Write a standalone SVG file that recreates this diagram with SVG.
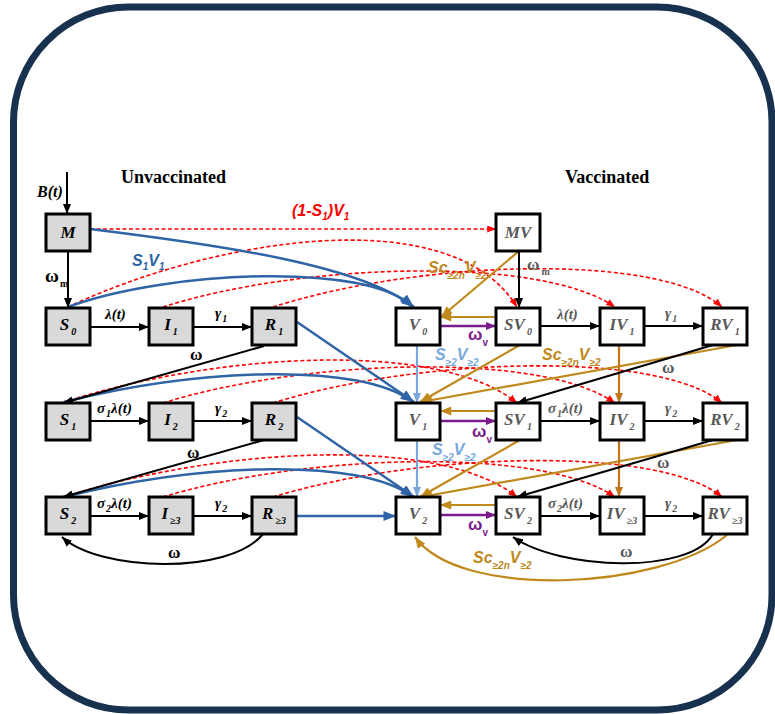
<svg xmlns="http://www.w3.org/2000/svg" width="775" height="714" viewBox="0 0 775 714">
<defs>
<style>
.bu{fill:#d9d9d9;stroke:#000;stroke-width:3}
.bv{fill:#fff;stroke:#000;stroke-width:3}
.tu{font-family:"Liberation Serif",serif;font-weight:bold;font-style:italic;font-size:17px;fill:#000;text-anchor:middle}
.tv{font-family:"Liberation Serif",serif;font-weight:bold;font-style:italic;font-size:17px;fill:#595959;text-anchor:middle}
.sub{font-size:10px}
.hd{font-family:"Liberation Serif",serif;font-weight:bold;font-size:18px;fill:#000}
.el{font-family:"Liberation Serif",serif;font-weight:bold;font-style:italic;font-size:15px;fill:#000}
.elg{font-family:"Liberation Serif",serif;font-weight:bold;font-style:italic;font-size:15px;fill:#595959}
.om{font-family:"Liberation Serif",serif;font-weight:bold;font-size:17px;fill:#000}
.omg{font-family:"Liberation Serif",serif;font-weight:bold;font-size:17px;fill:#595959}
.cl{font-family:"Liberation Sans",sans-serif;font-weight:bold;font-style:italic;font-size:16px}
.k{fill:none;stroke:#000;stroke-width:2;marker-end:url(#mk)}
.rd{fill:none;stroke:#ff0000;stroke-width:1.6;stroke-dasharray:4 2.5;marker-end:url(#mr)}
.bl{fill:none;stroke:#2f65a6;stroke-width:2.5;marker-end:url(#mb)}
.lb{fill:none;stroke:#79a8dc;stroke-width:2.2;marker-end:url(#ml)}
.gd{fill:none;stroke:#c0891c;stroke-width:2.2;marker-end:url(#mg)}
.or{fill:none;stroke:#c4761a;stroke-width:2.2;marker-end:url(#mo)}
.pu{fill:none;stroke:#7b1c8c;stroke-width:2.5;marker-end:url(#mp)}
</style>
<marker id="mk" viewBox="0 0 10 8" refX="10" refY="4" markerWidth="10" markerHeight="8" orient="auto" markerUnits="userSpaceOnUse"><path d="M0,0L10,4L0,8z" fill="#000"/></marker>
<marker id="mr" viewBox="0 0 10 8" refX="10" refY="4" markerWidth="9" markerHeight="7" orient="auto" markerUnits="userSpaceOnUse"><path d="M0,0L10,4L0,8z" fill="#ff0000"/></marker>
<marker id="mb" viewBox="0 0 10 8" refX="10" refY="4" markerWidth="13" markerHeight="10" orient="auto" markerUnits="userSpaceOnUse"><path d="M0,0L10,4L0,8z" fill="#2f65a6"/></marker>
<marker id="ml" viewBox="0 0 10 8" refX="10" refY="4" markerWidth="11" markerHeight="8" orient="auto" markerUnits="userSpaceOnUse"><path d="M0,0L10,4L0,8z" fill="#79a8dc"/></marker>
<marker id="mg" viewBox="0 0 10 8" refX="10" refY="4" markerWidth="12" markerHeight="9" orient="auto" markerUnits="userSpaceOnUse"><path d="M0,0L10,4L0,8z" fill="#c0891c"/></marker>
<marker id="mo" viewBox="0 0 10 8" refX="10" refY="4" markerWidth="11" markerHeight="8" orient="auto" markerUnits="userSpaceOnUse"><path d="M0,0L10,4L0,8z" fill="#c4761a"/></marker>
<marker id="mp" viewBox="0 0 10 8" refX="10" refY="4" markerWidth="11" markerHeight="8" orient="auto" markerUnits="userSpaceOnUse"><path d="M0,0L10,4L0,8z" fill="#7b1c8c"/></marker>
</defs>
<rect x="13.5" y="7" width="758.5" height="703" rx="115" ry="115" fill="#fff" stroke="#17314f" stroke-width="7"/>
<text class="hd" x="121" y="183">Unvaccinated</text>
<text class="hd" x="565" y="183">Vaccinated</text>
<g id="connectors">
<!-- red dashed -->
<path class="rd" d="M90 229H496"/>
<path class="rd" d="M68 307C210 240 450 198 517 307"/>
<path class="rd" d="M163 307C300 263 540 255 615 307"/>
<path class="rd" d="M273 307C420 260 660 252 722 307"/>
<path class="rd" d="M64 402C220 352 440 340 517 403"/>
<path class="rd" d="M163 403C300 360 540 350 615 403"/>
<path class="rd" d="M273 403C420 357 660 350 722 403"/>
<path class="rd" d="M64 497C220 447 440 435 517 497"/>
<path class="rd" d="M163 497C300 455 540 445 615 497"/>
<path class="rd" d="M273 497C420 452 660 445 722 497"/>
<!-- blue -->
<path class="bl" d="M90 229C220 245 360 265 414 307"/>
<path class="bl" d="M68 307C170 270 370 262 412 307"/>
<path class="bl" d="M297 322L414 402"/>
<path class="bl" d="M64 402C200 368 360 362 413 402"/>
<path class="bl" d="M297 417L414 497"/>
<path class="bl" d="M64 497C200 463 360 457 413 497"/>
<path class="bl" d="M297 516H396"/>
<!-- light blue -->
<path class="lb" d="M417 345V403"/>
<path class="lb" d="M417 440V497"/>
<!-- purple -->
<path class="pu" d="M440 326H496"/>
<path class="pu" d="M440 421H496"/>
<path class="pu" d="M440 515H496"/>
<!-- gold -->
<path class="gd" d="M496 317H440"/>
<path class="gd" d="M496 411H440"/>
<path class="gd" d="M496 505H440"/>
<path class="gd" d="M519 251L441 317"/>
<path class="gd" d="M520 345L420 402"/>
<path class="gd" d="M737 345L421 402"/>
<path class="gd" d="M520 440L420 497"/>
<path class="gd" d="M737 440L421 497"/>
<path class="gd" d="M727 535C660 590 460 600 415 537"/>
<path class="or" d="M619 345V403"/>
<path class="or" d="M619 440V497"/>
<!-- black -->
<path class="k" d="M67 172V214"/>
<path class="k" d="M68 250V308"/>
<path class="k" d="M90 327H149"/>
<path class="k" d="M193 327H252"/>
<path class="k" d="M264 346L63 403"/>
<path class="k" d="M90 421H149"/>
<path class="k" d="M193 421H252"/>
<path class="k" d="M264 440L63 497"/>
<path class="k" d="M90 516H149"/>
<path class="k" d="M193 516H252"/>
<path class="k" d="M263 534C230 575 100 572 62 537"/>
<path class="k" d="M519 251V308"/>
<path class="k" d="M540 326H600"/>
<path class="k" d="M644 326H703"/>
<path class="k" d="M713 345L517 403"/>
<path class="k" d="M540 421H600"/>
<path class="k" d="M644 421H703"/>
<path class="k" d="M713 440L517 497"/>
<path class="k" d="M540 516H600"/>
<path class="k" d="M644 516H703"/>
<path class="k" d="M713 534C690 575 560 570 513 537"/>
</g>
<g id="labels">
<text class="el" x="37" y="197" style="font-size:16px">B(t)</text>
<text class="om" x="45" y="282" style="font-size:19px">ω<tspan class="sub" dx="1" dy="5">m</tspan></text>
<text class="el" x="105" y="319">λ(t)</text>
<text class="el" x="215" y="318">γ<tspan class="sub" dx="1" dy="4">1</tspan></text>
<text class="om" x="190" y="360">ω</text>
<text class="el" x="97" y="413">σ<tspan class="sub" dx="1" dy="4">1</tspan><tspan dy="-4">λ(t)</tspan></text>
<text class="el" x="215" y="413">γ<tspan class="sub" dx="1" dy="4">2</tspan></text>
<text class="om" x="187" y="458">ω</text>
<text class="el" x="97" y="508">σ<tspan class="sub" dx="1" dy="4">2</tspan><tspan dy="-4">λ(t)</tspan></text>
<text class="el" x="215" y="508">γ<tspan class="sub" dx="1" dy="4">2</tspan></text>
<text class="om" x="168" y="558">ω</text>
<text class="omg" x="527" y="270">ω<tspan class="sub" dx="2" dy="5">m</tspan></text>
<text class="elg" x="557" y="319">λ(t)</text>
<text class="elg" x="665" y="318">γ<tspan class="sub" dx="1" dy="4">1</tspan></text>
<text class="omg" x="662" y="373">ω</text>
<text class="elg" x="548" y="413">σ<tspan class="sub" dx="1" dy="4">1</tspan><tspan dy="-4">λ(t)</tspan></text>
<text class="elg" x="665" y="413">γ<tspan class="sub" dx="1" dy="4">2</tspan></text>
<text class="omg" x="657" y="468">ω</text>
<text class="elg" x="548" y="508">σ<tspan class="sub" dx="1" dy="4">2</tspan><tspan dy="-4">λ(t)</tspan></text>
<text class="elg" x="665" y="508">γ<tspan class="sub" dx="1" dy="4">2</tspan></text>
<text class="omg" x="620" y="557">ω</text>
<text class="cl" x="292" y="216" fill="#ff0000">(1-S<tspan class="sub" dy="4">1</tspan><tspan dy="-4">)V</tspan><tspan class="sub" dy="4">1</tspan></text>
<text class="cl" x="132" y="266" fill="#2f65a6">S<tspan class="sub" dy="4">1</tspan><tspan dy="-4">V</tspan><tspan class="sub" dy="4">1</tspan></text>
<text class="cl" x="428" y="273" fill="#c0891c">Sc<tspan class="sub" dy="6">≥2n</tspan><tspan dy="-6">V</tspan><tspan class="sub" dy="6">≥2</tspan></text>
<text class="cl" x="542" y="360" fill="#c0891c">Sc<tspan class="sub" dy="6">≥2n</tspan><tspan dy="-6">V</tspan><tspan class="sub" dy="6">≥2</tspan></text>
<text class="cl" x="473" y="563" fill="#c0891c">Sc<tspan class="sub" dy="6">≥2n</tspan><tspan dy="-6">V</tspan><tspan class="sub" dy="6">≥2</tspan></text>
<text class="cl" x="435" y="360" fill="#79a8dc">S<tspan class="sub" dy="6">≥2</tspan><tspan dy="-6">V</tspan><tspan class="sub" dy="6">≥2</tspan></text>
<text class="cl" x="432" y="455" fill="#79a8dc">S<tspan class="sub" dy="6">≥2</tspan><tspan dy="-6">V</tspan><tspan class="sub" dy="6">≥2</tspan></text>
<text class="cl" x="468" y="340" fill="#7b1c8c" style="font-style:normal;font-size:17px">ω<tspan class="sub" dy="6">v</tspan></text>
<text class="cl" x="472" y="437" fill="#7b1c8c" style="font-style:normal;font-size:17px">ω<tspan class="sub" dy="6">v</tspan></text>
<text class="cl" x="468" y="530" fill="#7b1c8c" style="font-style:normal;font-size:17px">ω<tspan class="sub" dy="6">v</tspan></text>
</g>
<g id="M"><rect class="bu" x="46" y="214" width="44" height="37"/><text class="tu" x="68" y="238">M</text></g>
<g id="S0"><rect class="bu" x="46" y="308" width="44" height="37"/><text class="tu" x="68" y="330">S<tspan class="sub" dx="2" dy="5">0</tspan></text></g>
<g id="I1"><rect class="bu" x="149" y="308" width="44" height="37"/><text class="tu" x="171" y="330">I<tspan class="sub" dx="2" dy="5">1</tspan></text></g>
<g id="R1"><rect class="bu" x="252" y="308" width="44" height="37"/><text class="tu" x="274" y="330">R<tspan class="sub" dx="2" dy="5">1</tspan></text></g>
<g id="S1"><rect class="bu" x="46" y="403" width="44" height="37"/><text class="tu" x="68" y="425">S<tspan class="sub" dx="2" dy="5">1</tspan></text></g>
<g id="I2"><rect class="bu" x="149" y="403" width="44" height="37"/><text class="tu" x="171" y="425">I<tspan class="sub" dx="2" dy="5">2</tspan></text></g>
<g id="R2"><rect class="bu" x="252" y="403" width="44" height="37"/><text class="tu" x="274" y="425">R<tspan class="sub" dx="2" dy="5">2</tspan></text></g>
<g id="S2"><rect class="bu" x="46" y="497" width="44" height="37"/><text class="tu" x="68" y="519">S<tspan class="sub" dx="2" dy="5">2</tspan></text></g>
<g id="I3"><rect class="bu" x="149" y="497" width="44" height="37"/><text class="tu" x="171" y="519">I<tspan class="sub" dx="2" dy="5">≥3</tspan></text></g>
<g id="R3"><rect class="bu" x="252" y="497" width="44" height="37"/><text class="tu" x="274" y="519">R<tspan class="sub" dx="2" dy="5">≥3</tspan></text></g>
<g id="MV"><rect class="bv" x="496" y="214" width="44" height="37"/><text class="tv" x="518" y="238">MV</text></g>
<g id="V0"><rect class="bv" x="396" y="308" width="44" height="37"/><text class="tv" x="418" y="330">V<tspan class="sub" dx="2" dy="5">0</tspan></text></g>
<g id="SV0"><rect class="bv" x="496" y="308" width="44" height="37"/><text class="tv" x="518" y="330">SV<tspan class="sub" dx="2" dy="5">0</tspan></text></g>
<g id="IV1"><rect class="bv" x="600" y="308" width="44" height="37"/><text class="tv" x="622" y="330">IV<tspan class="sub" dx="2" dy="5">1</tspan></text></g>
<g id="RV1"><rect class="bv" x="703" y="308" width="44" height="37"/><text class="tv" x="725" y="330">RV<tspan class="sub" dx="2" dy="5">1</tspan></text></g>
<g id="V1"><rect class="bv" x="396" y="403" width="44" height="37"/><text class="tv" x="418" y="425">V<tspan class="sub" dx="2" dy="5">1</tspan></text></g>
<g id="SV1"><rect class="bv" x="496" y="403" width="44" height="37"/><text class="tv" x="518" y="425">SV<tspan class="sub" dx="2" dy="5">1</tspan></text></g>
<g id="IV2"><rect class="bv" x="600" y="403" width="44" height="37"/><text class="tv" x="622" y="425">IV<tspan class="sub" dx="2" dy="5">2</tspan></text></g>
<g id="RV2"><rect class="bv" x="703" y="403" width="44" height="37"/><text class="tv" x="725" y="425">RV<tspan class="sub" dx="2" dy="5">2</tspan></text></g>
<g id="V2"><rect class="bv" x="396" y="497" width="44" height="37"/><text class="tv" x="418" y="519">V<tspan class="sub" dx="2" dy="5">2</tspan></text></g>
<g id="SV2"><rect class="bv" x="496" y="497" width="44" height="37"/><text class="tv" x="518" y="519">SV<tspan class="sub" dx="2" dy="5">2</tspan></text></g>
<g id="IV3"><rect class="bv" x="600" y="497" width="44" height="37"/><text class="tv" x="622" y="519">IV<tspan class="sub" dx="2" dy="5">≥3</tspan></text></g>
<g id="RV3"><rect class="bv" x="703" y="497" width="44" height="37"/><text class="tv" x="725" y="519">RV<tspan class="sub" dx="2" dy="5">≥3</tspan></text></g>
</svg>
